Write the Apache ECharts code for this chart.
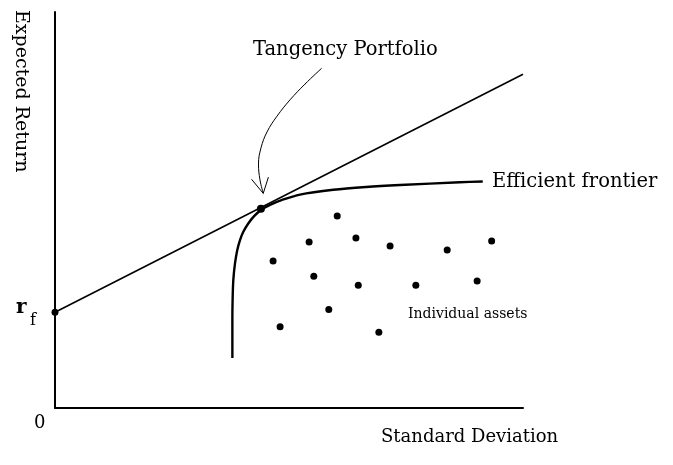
<!DOCTYPE html>
<html><head><meta charset="utf-8">
<script src="https://cdn.jsdelivr.net/npm/echarts@6/dist/echarts.min.js"></script>
<style>html,body{margin:0;padding:0;background:#fff}#c{width:673px;height:465px}</style>
</head><body><div id="c"></div>
<script>
// Axis scale is unitless (0-100 on both axes)
const riskFree = [[0, 24.2]];
const cmlLine = [[0, 24.2], [100, 84.3]];
const tangency = [[44.0, 50.3]];
const frontier = [
  [37.9, 12.6], [37.9, 22.2], [37.95, 27.3], [38.1, 32.3], [38.46, 36.5],
  [38.95, 39.9], [39.53, 42.4], [40.24, 44.5], [41.3, 46.6], [42.6, 48.5],
  [44.0, 50.0], [45.94, 51.3], [48.4, 52.5], [52.35, 53.9], [59.47, 55.1],
  [66.45, 55.8], [73.7, 56.3], [86.5, 57.0], [91.4, 57.2]
];
const assets = [
  [60.3, 48.5], [54.3, 41.9], [64.3, 42.9], [71.6, 40.9], [83.8, 39.9],
  [93.3, 42.2], [46.6, 37.1], [55.3, 33.3], [64.8, 31.0], [77.1, 31.0],
  [90.2, 32.1], [58.5, 24.9], [48.1, 20.5], [69.2, 19.1]
];
const arrowShaft = [
  [56.99, 85.8], [53.42, 81.8], [50.21, 77.8], [47.44, 73.7], [45.3, 69.7],
  [44.02, 65.7], [43.48, 61.6], [43.8, 57.6], [44.5, 54.2]
];
const arrowHead = [[42.0, 57.75], [44.5, 54.2], [45.6, 58.3]];
const labels = {
  yTitle: 'Expected Return', xTitle: 'Standard Deviation',
  tangency: 'Tangency Portfolio', frontier: 'Efficient frontier',
  assets: 'Individual assets', origin: '0'
};

const chart = echarts.init(document.getElementById('c'), null, {renderer: 'canvas'});
const serif = 'DejaVu Serif';
const hidden = {show: false};
const axisBase = {
  type: 'value', min: 0, max: 100,
  axisLine: {show: true, onZero: false, lineStyle: {color: '#000', width: 2}},
  axisTick: hidden, axisLabel: hidden, splitLine: hidden
};
const dot = {color: '#000', opacity: 1};
chart.setOption({
  backgroundColor: '#fff',
  animation: false,
  grid: {left: 55, right: 150, top: 12, bottom: 57},
  xAxis: axisBase,
  yAxis: axisBase,
  series: [
    {type: 'line', data: cmlLine, symbol: 'none', lineStyle: {color: '#000', width: 1.6}, silent: true},
    {type: 'line', data: frontier, symbol: 'none', smooth: 0.3, lineStyle: {color: '#000', width: 2.4}, silent: true},
    {type: 'line', data: arrowShaft, symbol: 'none', smooth: 0.4, lineStyle: {color: '#000', width: 1}, silent: true},
    {type: 'line', data: arrowHead, symbol: 'none', lineStyle: {color: '#000', width: 1}, silent: true},
    {type: 'scatter', data: assets, symbolSize: 7, itemStyle: dot},
    {type: 'scatter', data: tangency, symbolSize: 8, itemStyle: dot},
    {type: 'scatter', data: riskFree, symbolSize: 7, itemStyle: dot}
  ],
  graphic: [
    {type: 'text', left: 11, top: 10, rotation: -Math.PI / 2,
      style: {text: labels.yTitle, font: '19px ' + serif, fill: '#000'}},
    {type: 'text', x: 381, y: 428, style: {text: labels.xTitle, font: '18px ' + serif, fill: '#000'}},
    {type: 'text', x: 253, y: 40, style: {text: labels.tangency, font: '19.5px ' + serif, fill: '#000'}},
    {type: 'text', x: 492, y: 172, style: {text: labels.frontier, font: '19.5px ' + serif, fill: '#000'}},
    {type: 'text', x: 408, y: 307, style: {text: labels.assets, font: '14px ' + serif, fill: '#000'}},
    {type: 'text', x: 34, y: 414, style: {text: labels.origin, font: '18px ' + serif, fill: '#000'}},
    {type: 'text', x: 16, y: 298, style: {text: 'r', font: 'bold 20px ' + serif, fill: '#000'}},
    {type: 'text', x: 30, y: 313, style: {text: 'f', font: '16px ' + serif, fill: '#000'}}
  ]
});
</script></body></html>
